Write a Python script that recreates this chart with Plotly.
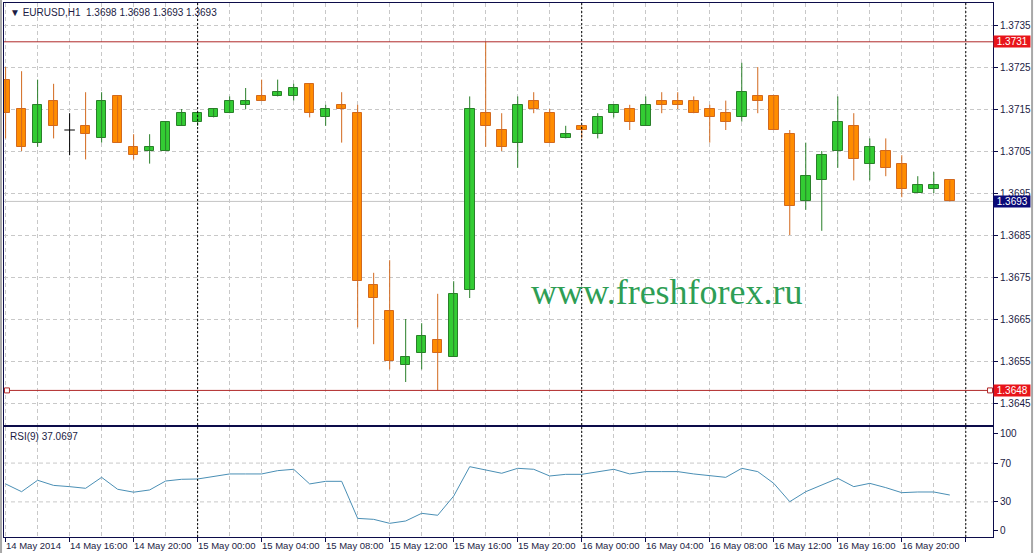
import plotly.graph_objects as go

# ── Terminal colours ──────────────────────────────────────────────────────────
BULL_FILL = "#33CC33"
BULL_LINE = "#2A7F2A"
BEAR_FILL = "#FF8C00"
BEAR_LINE = "#D2691E"
FRAME = "#0C0C4A"
GRID = "#C8C8C8"
LEVEL_RED = "#B02828"
LABEL_RED = "#E8141A"
BID_NAVY = "#0A0A78"
BID_LINE = "#C4C4C4"
RSI_BLUE = "#4A8FB5"
TEXT = "#1C1C44"
WATERMARK = "#2E9E55"
FONT = "Liberation Sans"

# ── Data (EURUSD H1, 14 May 12:00 .. 16 May 23:00) ───────────────────────────
SYMBOL = "EURUSD,H1"
opens = [1.3722, 1.3715, 1.3707, 1.3717, 1.3710, 1.3711, 1.3708, 1.3718, 1.3706, 1.3705,
         1.3705, 1.3711, 1.3712, 1.3713, 1.3714, 1.3716, 1.3718, 1.3718, 1.3718, 1.3721,
         1.3713, 1.3716, 1.3714, 1.3673, 1.3667, 1.3654, 1.3657, 1.3660, 1.3656, 1.3672,
         1.3714, 1.3710, 1.3707, 1.3717, 1.3714, 1.3708, 1.3711, 1.3709, 1.3714, 1.3715,
         1.3711, 1.3717, 1.3717, 1.3717, 1.3715, 1.3714, 1.3713, 1.3718, 1.3718, 1.3709,
         1.3693, 1.3698, 1.3705, 1.3711, 1.3702, 1.3705, 1.3702, 1.3695, 1.3696, 1.3698]
highs = [1.3725, 1.3724, 1.3722, 1.3721, 1.3714, 1.3719, 1.3719, 1.3718, 1.3709, 1.3709,
         1.3712, 1.3715, 1.3714, 1.3715, 1.3718, 1.3720, 1.3722, 1.3722, 1.3721, 1.3721,
         1.3716, 1.3719, 1.3716, 1.3676, 1.3679, 1.3665, 1.3664, 1.3671, 1.3674, 1.3718,
         1.3731, 1.3714, 1.3718, 1.3719, 1.3715, 1.3711, 1.3711, 1.3714, 1.3716, 1.3716,
         1.3718, 1.3719, 1.3719, 1.3718, 1.3716, 1.3717, 1.3726, 1.3725, 1.3718, 1.3710,
         1.3707, 1.3705, 1.3718, 1.3714, 1.3708, 1.3708, 1.3704, 1.3699, 1.3700, 1.3698]
lows = [1.3708, 1.3705, 1.3706, 1.3708, 1.3704, 1.3703, 1.3707, 1.3707, 1.3703, 1.3702,
        1.3705, 1.3711, 1.3711, 1.3713, 1.3714, 1.3715, 1.3717, 1.3718, 1.3717, 1.3713,
        1.3711, 1.3707, 1.3663, 1.3659, 1.3653, 1.3650, 1.3653, 1.3648, 1.3656, 1.3670,
        1.3706, 1.3705, 1.3701, 1.3714, 1.3707, 1.3708, 1.3708, 1.3708, 1.3713, 1.3710,
        1.3711, 1.3714, 1.3715, 1.3714, 1.3707, 1.3710, 1.3712, 1.3714, 1.3710, 1.3685,
        1.3691, 1.3686, 1.3701, 1.3698, 1.3698, 1.3699, 1.3694, 1.3695, 1.3695, 1.3693]
closes = [1.3714, 1.3706, 1.3716, 1.3711, 1.3710, 1.3709, 1.3717, 1.3707, 1.3704, 1.3706,
          1.3712, 1.3714, 1.3714, 1.3715, 1.3717, 1.3717, 1.3717, 1.3719, 1.3720, 1.3714,
          1.3715, 1.3715, 1.3674, 1.3670, 1.3655, 1.3656, 1.3661, 1.3657, 1.3671, 1.3715,
          1.3711, 1.3706, 1.3716, 1.3715, 1.3707, 1.3709, 1.3710, 1.3713, 1.3716, 1.3712,
          1.3716, 1.3716, 1.3716, 1.3714, 1.3713, 1.3712, 1.3719, 1.3717, 1.3710, 1.3692,
          1.3699, 1.3704, 1.3712, 1.3703, 1.3706, 1.3701, 1.3696, 1.3697, 1.3697, 1.3693]
rsi = [48.5, 40.5, 52.3, 47.0, 45.7, 44.0, 55.3, 43.0, 40.0, 42.3,
       51.5, 53.3, 53.6, 56.0, 58.8, 58.8, 58.8, 62.2, 63.6, 48.5,
       51.2, 51.2, 13.0, 12.0, 7.9, 10.3, 18.2, 16.2, 36.0, 66.3,
       62.9, 59.5, 64.6, 63.6, 56.7, 58.4, 58.4, 61.2, 63.6, 58.8,
       61.2, 61.2, 61.2, 58.8, 56.7, 55.3, 64.6, 61.2, 49.1, 30.2,
       40.5, 47.4, 54.3, 45.7, 49.1, 44.7, 39.5, 40.2, 40.2, 37.0697]

time_labels = ["14 May 2014", "14 May 16:00", "14 May 20:00", "15 May 00:00", "15 May 04:00",
               "15 May 08:00", "15 May 12:00", "15 May 16:00", "15 May 20:00", "16 May 00:00",
               "16 May 04:00", "16 May 08:00", "16 May 12:00", "16 May 16:00", "16 May 20:00"]
label_step = 4            # one time label every 4 bars
separator_bars = [12, 36, 60]   # day separators (00:00)
level_lines = [1.3731, 1.3648]
rsi_levels = [30, 70]
rsi_ticks = [0, 30, 70, 100]

bars = list(range(len(opens)))
bid = closes[-1]

up = [i for i in bars if closes[i] > opens[i]]
dn = [i for i in bars if closes[i] < opens[i]]
dj = [i for i in bars if closes[i] == opens[i]]


def wick_xy(idx):
    xs, ys = [], []
    for i in idx:
        xs += [i, i, None]
        ys += [lows[i], highs[i], None]
    return xs, ys


fig = go.Figure()

# wicks first, bodies on top
for idx, col in ((up, BULL_LINE), (dn, BEAR_LINE), (dj, "#000000")):
    wx, wy = wick_xy(idx)
    fig.add_trace(go.Scatter(x=wx, y=wy, mode="lines", line=dict(color=col, width=1),
                             hoverinfo="skip", showlegend=False))

fig.add_trace(go.Bar(
    x=up, base=[opens[i] for i in up], y=[closes[i] - opens[i] for i in up],
    width=0.6, marker=dict(color=BULL_FILL, line=dict(color=BULL_LINE, width=1)),
    showlegend=False,
))
fig.add_trace(go.Bar(
    x=dn, base=[closes[i] for i in dn], y=[opens[i] - closes[i] for i in dn],
    width=0.6, marker=dict(color=BEAR_FILL, line=dict(color=BEAR_LINE, width=1)),
    showlegend=False,
))

# doji crosses
dx, dy = [], []
for i in dj:
    dx += [i - 0.33, i + 0.33, None]
    dy += [opens[i], opens[i], None]
fig.add_trace(go.Scatter(x=dx, y=dy, mode="lines", line=dict(color="#000000", width=1),
                         hoverinfo="skip", showlegend=False))

# RSI line
fig.add_trace(go.Scatter(x=bars, y=rsi, mode="lines", xaxis="x2", yaxis="y2",
                         line=dict(color=RSI_BLUE, width=1), showlegend=False))

# ── Shapes: levels, bid, separators ──────────────────────────────────────────
shapes = []
shapes.append(dict(type="line", xref="paper", x0=0, x1=1, yref="y", y0=bid, y1=bid,
                   line=dict(color=BID_LINE, width=1), layer="below"))
for lv in level_lines:
    shapes.append(dict(type="line", xref="paper", x0=0, x1=1, yref="y", y0=lv, y1=lv,
                       line=dict(color=LEVEL_RED, width=1)))
# selection anchors on the lower level
for xa in (0.003, 0.997):
    shapes.append(dict(type="rect", xref="paper", xsizemode="pixel", xanchor=xa, x0=-2.5, x1=2.5,
                       yref="y", ysizemode="pixel", yanchor=level_lines[1], y0=-2.5, y1=2.5,
                       fillcolor="white", line=dict(color=LEVEL_RED, width=1)))
for sb in separator_bars:
    shapes.append(dict(type="line", xref="x", x0=sb, x1=sb, yref="paper", y0=0, y1=1,
                       line=dict(color="#000000", width=1, dash="2px,2px")))
for lv in rsi_levels:
    shapes.append(dict(type="line", xref="paper", x0=0, x1=1, yref="y2", y0=lv, y1=lv,
                       line=dict(color=GRID, width=1, dash="4px,3px"), layer="below"))
# window frame edges
for xp in (-0.003, 1.0395):
    shapes.append(dict(type="line", xref="paper", x0=xp, x1=xp, yref="paper", y0=-0.04, y1=1.01,
                       line=dict(color="#A8A8A8", width=2)))

# ── Annotations ──────────────────────────────────────────────────────────────
ann = []
ann.append(dict(
    text="▼\u00a0" + SYMBOL + "\u00a0\u00a0" + "\u00a0".join(
        f"{v:.4f}" for v in (opens[-1], highs[-1], lows[-1], closes[-1])),
    xref="paper", x=0.004, xanchor="left", yref="paper", y=1, yanchor="top", yshift=-2,
    showarrow=False, font=dict(family=FONT, size=10, color=TEXT),
))
ann.append(dict(
    text=f"RSI(9) {rsi[-1]:.4f}", xref="paper", x=0.004, xanchor="left",
    yref="paper", y=0.206, yanchor="top", yshift=-2,
    showarrow=False, font=dict(family=FONT, size=10, color=TEXT),
))
ann.append(dict(
    text="www.freshforex.ru", xref="paper", x=0.670, xanchor="center",
    yref="paper", y=0.459, yanchor="middle", showarrow=False,
    font=dict(family="Liberation Serif", size=36, color=WATERMARK),
))
for lv in level_lines:
    ann.append(dict(text=f"\u00a0{lv:.4f}\u00a0", xref="paper", x=1, xanchor="left",
                    yref="y", y=lv, yanchor="middle", showarrow=False, bgcolor=LABEL_RED,
                    borderpad=0, font=dict(family=FONT, size=10, color="white")))
ann.append(dict(text=f"\u00a0{bid:.4f}\u00a0", xref="paper", x=1, xanchor="left",
                yref="y", y=bid, yanchor="middle", showarrow=False, bgcolor=BID_NAVY,
                borderpad=0, font=dict(family=FONT, size=10, color="white")))
for j, lab in enumerate(time_labels):
    ann.append(dict(text=lab, xref="x2", x=j * label_step, xanchor="left", xshift=-2,
                    yref="paper", y=0, yanchor="top", yshift=-1, showarrow=False,
                    font=dict(family=FONT, size=9.5, color=TEXT)))

xcommon = dict(
    range=[-0.1, 61.7], tickmode="linear", tick0=0, dtick=label_step,
    showgrid=True, gridcolor=GRID, griddash="4px,3px", gridwidth=1,
    minor=dict(dtick=2, showgrid=True, gridcolor=GRID, griddash="4px,3px", ticks=""),
    showline=True, mirror=True, linecolor=FRAME, linewidth=1,
    zeroline=False, showticklabels=False,
)

fig.update_layout(
    width=1035, height=553,
    margin=dict(l=4, r=42, t=3, b=16),
    paper_bgcolor="white", plot_bgcolor="white",
    barmode="overlay", bargap=0,
    font=dict(family=FONT, size=10, color=TEXT),
    xaxis=dict(**xcommon, anchor="y", ticks=""),
    xaxis2=dict(**xcommon, anchor="y2", matches="x", ticks="outside", ticklen=4,
                tickcolor=FRAME),
    yaxis=dict(
        domain=[0.2097, 1], range=[1.363976, 1.374024], side="right",
        tickmode="linear", tick0=1.3645, dtick=0.001, tickformat=".4f",
        ticks="outside", ticklen=4, tickcolor=FRAME,
        showgrid=True, gridcolor=GRID, griddash="4px,3px", zeroline=False,
        showline=True, mirror=True, linecolor=FRAME, linewidth=1,
        tickfont=dict(family=FONT, size=10, color=TEXT),
    ),
    yaxis2=dict(
        domain=[0, 0.206], range=[-6.2, 107.2], side="right",
        tickmode="array", tickvals=rsi_ticks, ticks="outside", ticklen=4, tickcolor=FRAME,
        showgrid=False, zeroline=False,
        showline=True, mirror=True, linecolor=FRAME, linewidth=1,
        tickfont=dict(family=FONT, size=10, color=TEXT),
    ),
    shapes=shapes,
    annotations=ann,
)

# the page is shown edge to edge, so drop the default body margin
fig.write_html("out.html", config={"displayModeBar": False},
               post_script="document.body.style.margin='0';")
